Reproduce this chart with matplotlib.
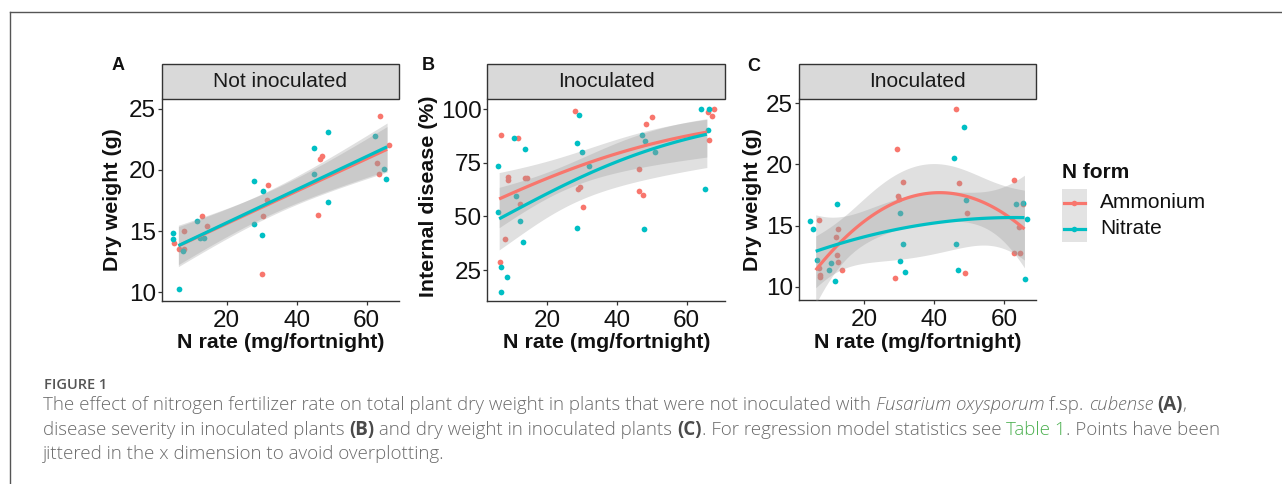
import matplotlib.pyplot as plt
from matplotlib.patches import Rectangle
from matplotlib.lines import Line2D
import numpy as np

# ---- data (x is jittered N rate, mg/fortnight) ----
# A: dry weight, not inoculated
amm_x_A = [5.0, 6.3, 7.9, 7.9, 12.9, 14.4, 30.2, 30.3, 31.6, 31.9, 46.1, 46.7, 47.3, 63.0, 63.6, 63.7, 66.3]
amm_y_A = [14.06, 13.5, 15.0, 13.5, 16.2, 15.4, 11.5, 16.2, 17.5, 18.8, 16.3, 20.86, 21.1, 20.6, 19.64, 24.4, 22.06]
nit_x_A = [4.6, 4.6, 6.4, 7.6, 11.6, 12.4, 13.6, 27.7, 27.8, 30.1, 30.4, 44.9, 45.0, 49.0, 49.0, 62.4, 65.0, 65.6]
nit_y_A = [14.87, 14.33, 10.24, 13.37, 15.8, 14.4, 14.4, 15.55, 19.1, 14.68, 18.25, 21.8, 19.64, 23.1, 17.4, 22.74, 20.1, 19.28]

# B: internal disease (%), inoculated
amm_x_B = [6.4, 6.6, 7.75, 8.7, 8.7, 11.7, 12.2, 13.7, 14.3, 27.9, 28.9, 29.4, 30.3, 46.2, 46.4, 47.4, 48.3, 50.2, 66.0, 66.3, 67.4, 67.8]
amm_y_B = [28.7, 87.7, 39.3, 68.5, 66.9, 86.5, 55.7, 68.0, 68.0, 98.9, 62.6, 63.8, 54.2, 71.9, 61.8, 60.1, 93.0, 96.3, 98.8, 85.6, 96.7, 99.8]
nit_x_B = [5.8, 6.0, 6.8, 6.8, 8.5, 10.5, 11.0, 12.2, 13.1, 13.7, 28.4, 28.4, 29.0, 30.0, 32.1, 47.3, 47.8, 48.0, 50.8, 64.0, 65.4, 66.1, 66.3]
nit_y_B = [52.0, 73.6, 26.4, 14.9, 21.7, 86.6, 59.5, 47.8, 38.2, 81.4, 84.0, 44.7, 97.4, 79.8, 73.4, 87.7, 44.3, 85.2, 79.8, 100.0, 62.7, 90.2, 100.0]

# C: dry weight, inoculated
amm_x_C = [7.0, 7.1, 7.4, 7.4, 12.0, 12.4, 12.7, 12.7, 13.7, 28.7, 29.5, 29.8, 30.0, 31.2, 46.3, 47.2, 48.9, 49.5, 62.9, 62.9, 64.2, 64.6, 65.3]
amm_y_C = [11.56, 15.45, 10.93, 10.76, 14.09, 12.6, 14.72, 12.0, 11.36, 10.68, 21.26, 17.45, 17.2, 18.56, 24.5, 18.45, 11.15, 16.06, 18.75, 12.78, 14.9, 12.78, 16.74]
nit_x_C = [4.6, 5.3, 6.7, 10.0, 10.6, 11.8, 12.4, 30.3, 30.3, 31.2, 31.6, 45.7, 46.3, 46.9, 48.6, 49.0, 63.4, 65.5, 66.1, 66.4]
nit_y_C = [15.4, 14.72, 12.18, 11.36, 11.9, 10.44, 16.76, 16.06, 12.1, 13.5, 11.17, 20.5, 13.5, 11.36, 23.04, 17.09, 16.76, 16.87, 10.6, 15.5]

n_forms = ['Ammonium', 'Nitrate']
strip_titles = ['Not inoculated', 'Inoculated', 'Inoculated']
panel_letters = ['A', 'B', 'C']
y_titles = ['Dry weight (g)', 'Internal disease (%)', 'Dry weight (g)']
x_title = 'N rate (mg/fortnight)'
x_ticks = [20, 40, 60]
y_ticks = [[10, 15, 20, 25], [25, 50, 75, 100], [10, 15, 20, 25]]

AMM = '#F8766D'
NIT = '#00BFC4'
FONT = 'Liberation Sans'
CAP_FONT = 'Open Sans'

W, H = 1282, 484
fig = plt.figure(figsize=(W / 100, H / 100), dpi=100)
fig.patch.set_facecolor('white')


def fx(x):
    return x / W


def fy(y):
    return 1 - y / H


def lm_smooth(x, y, deg, xs, t=2.08):
    # least squares polynomial with 95% confidence band
    x = np.asarray(x)
    y = np.asarray(y)
    X = np.vander(x, deg + 1)
    coef = np.linalg.lstsq(X, y, rcond=None)[0]
    resid = y - X @ coef
    s2 = resid @ resid / (len(x) - deg - 1)
    cov = s2 * np.linalg.inv(X.T @ X)
    Xs = np.vander(xs, deg + 1)
    fit = Xs @ coef
    se = np.sqrt(np.einsum('ij,jk,ik->i', Xs, cov, Xs))
    return fit, fit - t * se, fit + t * se


def logit_smooth(x, y, xs, z=1.96):
    # quasi-binomial glm on the percentage, band on the link scale
    x = np.asarray(x)
    p = np.asarray(y) / 100
    X = np.column_stack([np.ones_like(x), x])
    beta = np.zeros(2)
    for _ in range(50):
        mu = 1 / (1 + np.exp(-(X @ beta)))
        w = mu * (1 - mu)
        zz = X @ beta + (p - mu) / w
        beta = np.linalg.solve(X.T @ (X * w[:, None]), X.T @ (w * zz))
    mu = 1 / (1 + np.exp(-(X @ beta)))
    w = mu * (1 - mu)
    phi = np.sum((p - mu) ** 2 / w) / (len(x) - 2)
    cov = phi * np.linalg.inv(X.T @ (X * w[:, None]))
    Xs = np.column_stack([np.ones_like(xs), xs])
    eta = Xs @ beta
    se = np.sqrt(np.einsum('ij,jk,ik->i', Xs, cov, Xs))
    inv = lambda e: 100 / (1 + np.exp(-e))
    return inv(eta), inv(eta - z * se), inv(eta + z * se)


# panel boxes in pixels: left, right, top, bottom
boxes = [(161.7, 399.0, 99, 301), (487.3, 725.3, 99, 301), (799.0, 1036.0, 99, 300)]
xlims = [(1.43, 69.2), (2.8, 71.1), (1.43, 69.1)]
ylims = [(9.29, 25.79), (10.56, 104.66), (8.91, 25.35)]
letter_pos = [(118, 66), (428, 66), (754, 66.5)]
ylab_pos = [(113, 200), (429, 196), (752, 200)]
strip_top = 64

series = [
    [(amm_x_A, amm_y_A), (nit_x_A, nit_y_A)],
    [(amm_x_B, amm_y_B), (nit_x_B, nit_y_B)],
    [(amm_x_C, amm_y_C), (nit_x_C, nit_y_C)],
]
smoothers = [
    lambda x, y, xs: lm_smooth(x, y, 1, xs),
    logit_smooth,
    lambda x, y, xs: lm_smooth(x, y, 2, xs),
]
xs = np.linspace(6.2, 65.8, 120)

for i, (l, r, t, b) in enumerate(boxes):
    ax = fig.add_axes([fx(l), fy(b), (r - l) / W, (b - t) / H])
    for (sx, sy), col in zip(series[i], [AMM, NIT]):
        ax.scatter(sx, sy, s=17, color=col, linewidths=0, zorder=2)
    for (sx, sy), col in zip(series[i], [AMM, NIT]):
        fit, lo, hi = smoothers[i](sx, sy, xs)
        ax.fill_between(xs, lo, hi, color='#999999', alpha=0.3, lw=0, zorder=3)
        ax.plot(xs, fit, color=col, lw=2.3, zorder=4, solid_capstyle='butt')

    ax.set_xlim(*xlims[i])
    ax.set_ylim(*ylims[i])
    ax.set_xticks(x_ticks)
    ax.set_yticks(y_ticks[i])
    for side in ['top', 'right']:
        ax.spines[side].set_visible(False)
    for side in ['left', 'bottom']:
        ax.spines[side].set_color('#333333')
        ax.spines[side].set_linewidth(1.0)
    ax.tick_params(axis='both', length=3.2, width=0.9, color='#333333',
                   labelsize=17.5, labelcolor='#111111')
    ax.tick_params(axis='y', pad=1)
    ax.tick_params(axis='x', pad=3)
    for lab in ax.get_xticklabels() + ax.get_yticklabels():
        lab.set_fontfamily(FONT)

    # facet strip
    axh = b - t
    sh = (t - strip_top) / axh
    ax.add_patch(Rectangle((0, 1), 1, sh, transform=ax.transAxes, clip_on=False,
                           facecolor='#D9D9D9', edgecolor='#333333', lw=1.0))
    ax.text(0.5, 1 + sh / 2, strip_titles[i], transform=ax.transAxes,
            ha='center', va='center', fontsize=15, family=FONT, color='#1A1A1A')

    fig.text(fx((l + r) / 2), fy(342), x_title, ha='center', va='center',
             fontsize=15.4, fontweight='bold', family=FONT, color='#111111')
    fig.text(fx(ylab_pos[i][0]), fy(ylab_pos[i][1]), y_titles[i], rotation=90,
             ha='center', va='center', fontsize=15.4, fontweight='bold',
             family=FONT, color='#111111')
    fig.text(fx(letter_pos[i][0]), fy(letter_pos[i][1]), panel_letters[i],
             ha='center', va='center', fontsize=13, fontweight='bold',
             family=FONT, color='#111111')

# legend
fig.text(fx(1062), fy(173), 'N form', ha='left', va='center', fontsize=15,
         fontweight='bold', family=FONT, color='#111111')
fig.add_artist(Rectangle((fx(1061.7), fy(241.7)), 25 / W, 52.7 / H,
                         transform=fig.transFigure, facecolor='#E3E3E3', lw=0))
for k, (name, col) in enumerate(zip(n_forms, [AMM, NIT])):
    yk = 202.7 + k * 26.3
    fig.add_artist(Line2D([fx(1064), fx(1084.5)], [fy(yk), fy(yk)], color=col,
                          lw=2.3, transform=fig.transFigure))
    fig.add_artist(Line2D([fx(1074.2)], [fy(yk)], marker='o', ms=4, color=col,
                          mew=0, transform=fig.transFigure))
    fig.text(fx(1100), fy(yk), name, ha='left', va='center', fontsize=15,
             family=FONT, color='#111111')

# frame lines
fig.add_artist(Line2D([fx(9.5), fx(W)], [fy(12), fy(12)], color='#555555', lw=1.0,
                      transform=fig.transFigure))
fig.add_artist(Line2D([fx(9.5), fx(9.5)], [fy(12), fy(H)], color='#555555', lw=1.0,
                      transform=fig.transFigure))

# caption
renderer = fig.canvas.get_renderer()
styles = {
    'n': dict(color='#6B6B6B', weight='light'),
    'i': dict(color='#6B6B6B', style='italic', weight='light'),
    'b': dict(color='#4A4A4A', weight='bold'),
    'g': dict(color='#4CB050', weight='light'),
}


def text_width(s, size, st):
    t1 = fig.text(0, 0, 'x' + s + 'x', fontsize=size, family=CAP_FONT, **styles[st])
    t2 = fig.text(0, 0, 'xx', fontsize=size, family=CAP_FONT, **styles[st])
    w = t1.get_window_extent(renderer).width - t2.get_window_extent(renderer).width
    t1.remove()
    t2.remove()
    return w


caption = [
    [('The effect of nitrogen fertilizer rate on total plant dry weight in plants that were not inoculated with ', 'n'),
     ('Fusarium oxysporum', 'i'), (' f.sp. ', 'n'), ('cubense', 'i'), (' ', 'n'), ('(A)', 'b'), (',', 'n')],
    [('disease severity in inoculated plants ', 'n'), ('(B)', 'b'),
     (' and dry weight in inoculated plants ', 'n'), ('(C)', 'b'),
     ('. For regression model statistics see ', 'n'), ('Table 1', 'g'), ('. Points have been', 'n')],
    [('jittered in the x dimension to avoid overplotting.', 'n')],
]

base = 11.0
w2 = sum(text_width(s, base, st) for s, st in caption[1])
cap_size = base * (1224 - 43) / w2

fig.text(fx(43.5), fy(389), 'FIGURE 1', fontsize=10.5, family=CAP_FONT,
         weight='semibold', color='#555555', va='baseline', ha='left')
for line, yb in zip(caption, [410, 435, 459]):
    x = 43.0
    for s, st in line:
        fig.text(fx(x), fy(yb), s, fontsize=cap_size, family=CAP_FONT,
                 va='baseline', ha='left', **styles[st])
        x += text_width(s, cap_size, st)

fig.savefig('out.png', dpi=100)
